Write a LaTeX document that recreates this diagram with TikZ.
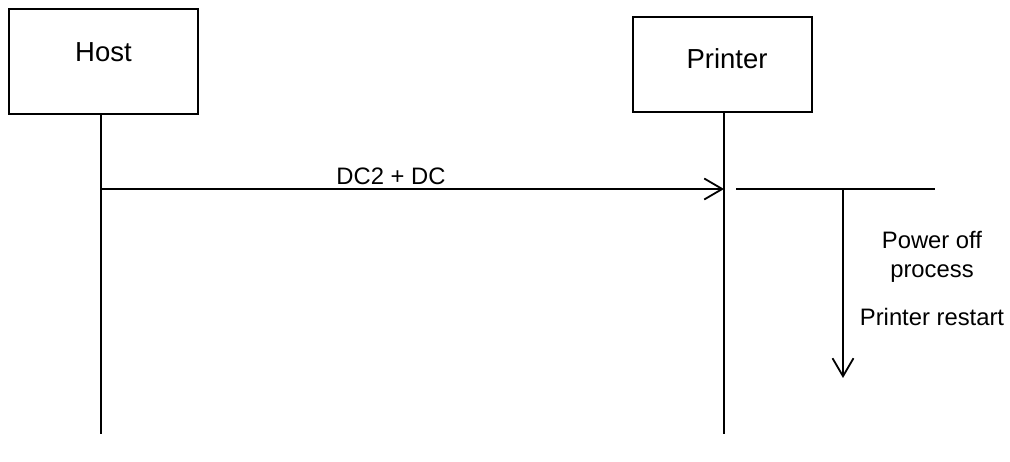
\documentclass[tikz,border=0pt]{standalone}
\usepackage{fontspec}
\setmainfont{Liberation Sans}
\usetikzlibrary{arrows.meta}
\begin{document}
\begin{tikzpicture}[x=1pt,y=-1pt,line width=1.8pt,
  actor/.style={draw,line width=1.6pt,minimum width=189pt,minimum height=105pt,inner sep=0pt},
  big/.style={font=\fontsize{27.5pt}{30pt}\selectfont},
  small/.style={font=\fontsize{23.8pt}{27pt}\selectfont,inner sep=0pt},
  msg/.style={-{Straight Barb[length=18pt,width=21pt,line width=1.8pt]}}]
\useasboundingbox (0,0) rectangle (1010,462);
\node[actor] (host) at (103.5,61.5) {};
\node[actor,minimum width=179pt,minimum height=95pt] (printer) at (722.5,64.5) {};
\node[big,anchor=base,inner sep=0pt] (hostt) at (103.5,62) {Host};
\node[big,anchor=base,inner sep=0pt] (printert) at (727,69) {Printer};
\coordinate (hostend) at (101,434);
\coordinate (printerend) at (724,434);
\draw (host.south -| hostend) -- (hostend);
\draw (printer.south -| printerend) -- (printerend);
\coordinate (msgstart) at (101,189);
\coordinate (msgend) at (724,189);
\draw[msg] (msgstart) -- (msgend);
\node[small,anchor=base] (dc) at (391,185) {DC2 + DC};
\coordinate (lineA) at (736,189);
\coordinate (lineB) at (935,189);
\draw (lineA) -- (lineB);
\coordinate (procstart) at (843,189);
\coordinate (procend) at (843,378);
\draw[msg] (procstart) -- (procend);
\node[small,anchor=base] (p1) at (932,249) {Power off};
\node[small,anchor=base] (p2) at (932,278) {process};
\node[small,anchor=base] (p3) at (932,326) {Printer restart};
\end{tikzpicture}
\end{document}
